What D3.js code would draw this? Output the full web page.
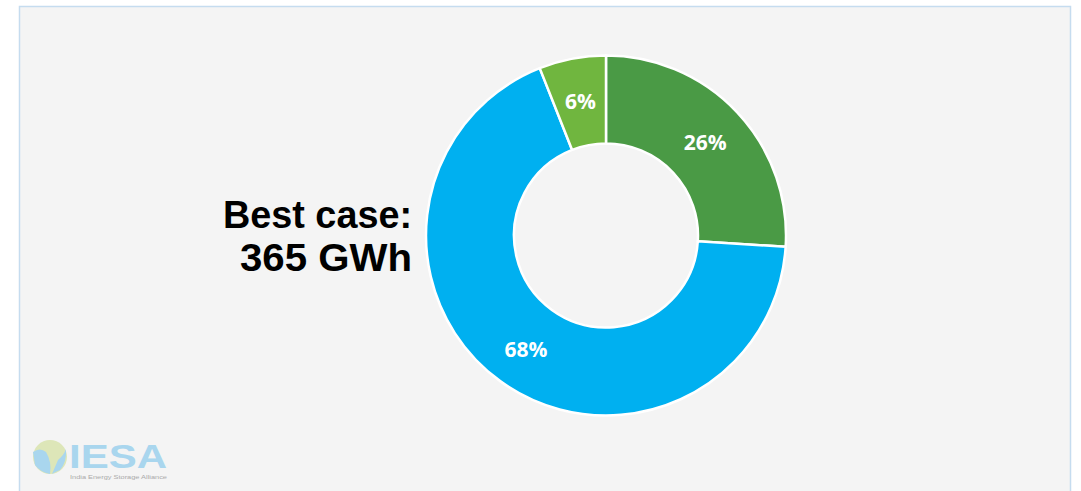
<!DOCTYPE html>
<html><head><meta charset="utf-8">
<script src="https://cdn.jsdelivr.net/npm/d3@7"></script>
<style>html,body{margin:0;padding:0;background:#fff;overflow:hidden}</style>
</head><body>
<svg id="c" width="1081" height="491"></svg>
<script>
const categories = ["Segment A", "Segment B", "Segment C"];
const values = [26, 68, 6];
const labels = ["26%", "68%", "6%"];
const colors = ["#4a9a45", "#00b0f0", "#70b63f"];
const titleLines = ["Best case:", "365 GWh"];

const svg = d3.select("#c");
// panel
svg.append("rect").attr("x", 19.5).attr("y", 6.5).attr("width", 1051).attr("height", 500)
  .attr("fill", "#f4f4f4").attr("stroke", "#c5dcef").attr("stroke-width", 1.5);

const cx = 606, cy = 235.5, rOut = 180, rIn = 92;
const pie = d3.pie().sort(null).value(d => d.v);
const arcs = pie(categories.map((c, i) => ({c, v: values[i], i})));
const arc = d3.arc().innerRadius(rIn).outerRadius(rOut);
const g = svg.append("g").attr("transform", `translate(${cx},${cy})`);
g.selectAll("path").data(arcs).join("path")
  .attr("d", arc).attr("fill", d => colors[d.data.i])
  .attr("stroke", "#fff").attr("stroke-width", 2.5).attr("stroke-linejoin", "round");
const lab = d3.arc().innerRadius((rIn + rOut) / 2).outerRadius((rIn + rOut) / 2);
g.selectAll("text").data(arcs).join("text")
  .attr("transform", d => { const [x, y] = lab.centroid(d); return `translate(${x},${y + (d.data.i===1?4:0)})`; })
  .attr("text-anchor", "middle").attr("dy", "0.36em")
  .attr("font-family", "'Open Sans', sans-serif").attr("font-weight", 700)
  .attr("font-size", 21).attr("fill", "#fff")
  .text(d => labels[d.data.i]);

// title (two separate lines)
const tl = [189, 172];
svg.selectAll("text.title").data(titleLines).join("text").attr("class", "title")
  .attr("text-anchor", "end")
  .attr("font-family", "'Liberation Sans', Arial, sans-serif").attr("font-weight", 700)
  .attr("font-size", 38).attr("fill", "#000")
  .attr("x", 412).attr("y", (d, i) => 228 + i * 43)
  .attr("textLength", (d, i) => tl[i]).attr("lengthAdjust", "spacingAndGlyphs").text(d => d);

// logo
const lg = svg.append("g");
lg.append("circle").attr("cx", 50).attr("cy", 457).attr("r", 17).attr("fill", "#dde6b8");
lg.append("path").attr("d", "M33,452 Q40,447 46,452 Q52,462 50,474 Q40,472 35,465 Z").attr("fill", "#a9d6ee");
lg.append("path").attr("d", "M58,460 Q64,455 66,449 Q67,462 60,470 Q55,472 52,474 Z").attr("fill", "#a9d6ee");
lg.append("text").attr("x", 69).attr("y", 468).attr("font-family", "'Liberation Sans', Arial, sans-serif")
  .attr("font-weight", 700).attr("font-size", 34).attr("fill", "#a9d6ee")
  .attr("textLength", 98).attr("lengthAdjust", "spacingAndGlyphs").text("IESA");
lg.append("text").attr("x", 70).attr("y", 479).attr("font-family", "'Liberation Sans', Arial, sans-serif")
  .attr("font-size", 5.5).attr("fill", "#aaa")
  .attr("textLength", 97).attr("lengthAdjust", "spacingAndGlyphs").text("India Energy Storage Alliance");
</script>
</body></html>
